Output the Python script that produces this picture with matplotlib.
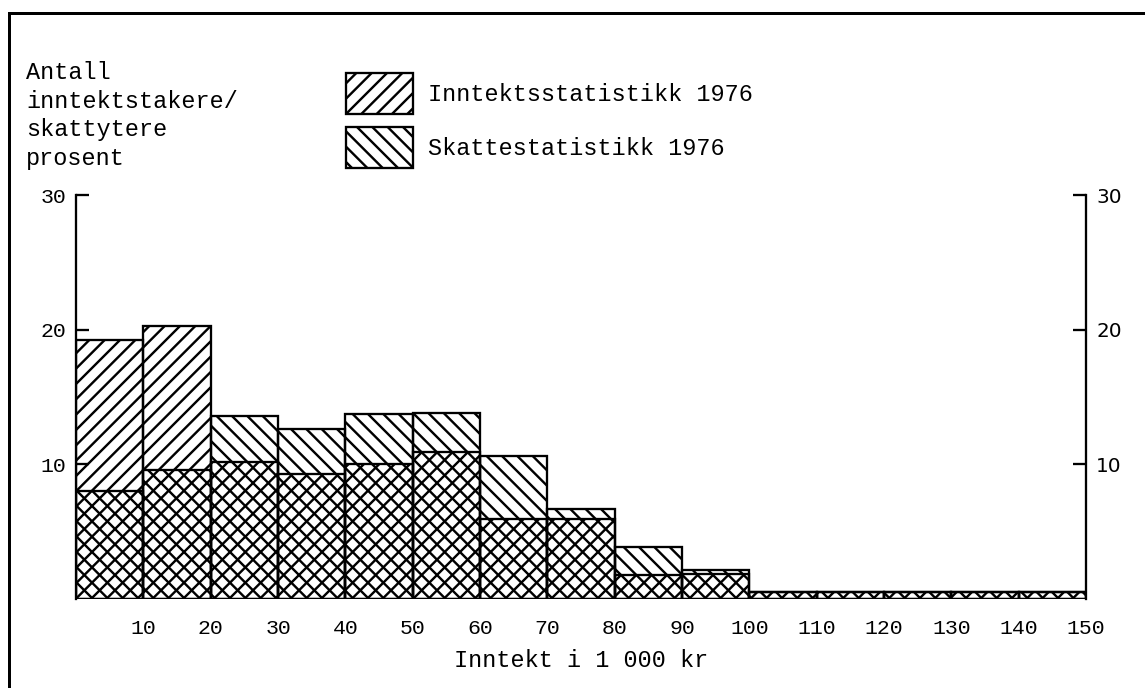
import matplotlib
matplotlib.use('Agg')
import matplotlib.pyplot as plt
from matplotlib.patches import Patch
from matplotlib.lines import Line2D

# income bins (1000 kr), left edges, width 10
bin_start = [0, 10, 20, 30, 40, 50, 60, 70, 80, 90, 100, 110, 120, 130, 140]
inntekt = [19.2, 20.3, 10.2, 9.3, 10.0, 10.9, 5.95, 5.9, 1.8, 1.85, 0.55, 0.55, 0.55, 0.55, 0.55]
skatt = [8.0, 9.6, 13.6, 12.6, 13.7, 13.8, 10.6, 6.7, 3.85, 2.15, 0.55, 0.55, 0.55, 0.55, 0.55]
x_ticks = [10, 20, 30, 40, 50, 60, 70, 80, 90, 100, 110, 120, 130, 140, 150]
y_ticks = [10, 20, 30]

DPI = 92
W, H = 1145, 688


def px(v):
    # pixels -> points at this dpi
    return v * 72 / DPI


plt.rcParams['font.family'] = ['Liberation Mono', 'DejaVu Sans']
plt.rcParams['hatch.linewidth'] = px(2.4)

fig = plt.figure(figsize=((W + 0.2) / DPI, (H + 0.2) / DPI), dpi=DPI)
ax = fig.add_axes([76 / W, 89 / H, (1086 - 76) / W, (599 - 195) / H])

lw = px(2.3)
ax.bar(bin_start, inntekt, width=10, align='edge', facecolor='none',
       edgecolor='black', hatch='//', linewidth=lw)
ax.bar(bin_start, skatt, width=10, align='edge', facecolor='none',
       edgecolor='black', hatch='\\\\', linewidth=lw)

ax.set_xlim(0, 150)
ax.set_ylim(0, 30)
ax.set_xticks(x_ticks)
ax.set_xticklabels([str(v) for v in x_ticks], fontsize=px(21.5))
ax.tick_params(axis='x', length=0, pad=px(20))
ax.set_yticks(y_ticks)
ax.tick_params(axis='y', left=True, right=True, labelleft=True, labelright=True,
               direction='in', length=px(13), width=lw, pad=px(10), labelsize=px(21.5))
for t in ax.yaxis.get_major_ticks():
    t.label2.set_fontfamily('DejaVu Sans')
    t.label2.set_fontsize(px(20))

for s in ['top', 'bottom']:
    ax.spines[s].set_visible(False)
for s in ['left', 'right']:
    ax.spines[s].set_linewidth(lw)

txt = px(23.5)
ax.set_xlabel('Inntekt i 1 000 kr', fontsize=txt, labelpad=px(11))

fig.text(26 / W, 1 - 61 / H, 'Antall\ninntektstakere/\nskattytere\nprosent',
         fontsize=txt, va='top', ha='left', linespacing=1.31)

handles = [Patch(facecolor='white', edgecolor='black', hatch='//', linewidth=lw,
                 label='Inntektsstatistikk 1976'),
           Patch(facecolor='white', edgecolor='black', hatch='\\\\', linewidth=lw,
                 label='Skattestatistikk 1976')]
fig.legend(handles=handles, loc='upper left', bbox_to_anchor=(346 / W, 1 - 73 / H),
           frameon=False, fontsize=txt, handlelength=2.85, handleheight=2.3,
           labelspacing=0.55, handletextpad=0.65, borderpad=0, borderaxespad=0)

# page frame
fig.add_artist(Line2D([9 / W, 1], [1 - 13 / H, 1 - 13 / H], color='black', linewidth=px(3)))
fig.add_artist(Line2D([9 / W, 9 / W], [0, 1 - 13 / H], color='black', linewidth=px(3)))

fig.savefig('out.png', dpi=DPI, facecolor='white')
